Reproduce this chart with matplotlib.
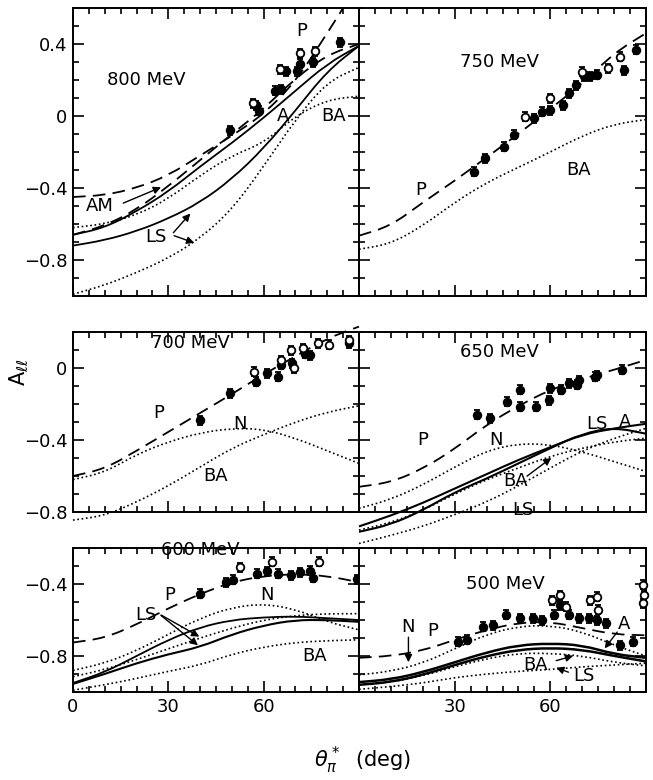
import matplotlib.pyplot as plt
from matplotlib.path import Path
from matplotlib.patches import PathPatch
from matplotlib.ticker import FixedLocator, MultipleLocator

plt.rcParams['font.family'] = ['DejaVu Sans']

ang = [0, 10, 20, 30, 40, 50, 60, 70, 80, 90]

# ---- 800 MeV
p800_x = [0, 10, 20, 30, 40, 50, 60, 70, 80, 85]
p800 = [-0.45, -0.44, -0.40, -0.33, -0.22, -0.11, 0.01, 0.19, 0.46, 0.60]
am800 = [-0.66, -0.61, -0.52, -0.39, -0.245, -0.10, 0.04, 0.21, 0.34, 0.40]
a800 = [-0.66, -0.62, -0.53, -0.42, -0.28, -0.15, -0.01, 0.14, 0.29, 0.39]
ls800 = [-0.72, -0.69, -0.64, -0.57, -0.48, -0.35, -0.18, 0.03, 0.25, 0.39]
ba800 = [-0.62, -0.60, -0.55, -0.46, -0.33, -0.22, -0.15, 0.0, 0.09, 0.11]
lsd800 = [-0.99, -0.94, -0.87, -0.79, -0.68, -0.52, -0.28, -0.02, 0.19, 0.27]
f800_x = [49.5, 57.5, 58.5, 63.5, 65.5, 67, 70.5, 71.5, 75.5, 84]
f800_y = [-0.08, 0.06, 0.03, 0.14, 0.15, 0.25, 0.25, 0.29, 0.30, 0.41]
o800_x = [56.5, 65, 71.5, 76]
o800_y = [0.07, 0.26, 0.35, 0.36]

# ---- 750 MeV
p750 = [-0.665, -0.61, -0.48, -0.36, -0.23, -0.10, 0.04, 0.18, 0.35, 0.46]
ba750 = [-0.74, -0.71, -0.61, -0.48, -0.37, -0.285, -0.20, -0.11, -0.045, -0.02]
f750_x = [36, 39.5, 45.5, 48.5, 55, 57.5, 60, 64, 66, 68, 70.5, 72.5, 74.5, 83, 87]
f750_y = [-0.31, -0.235, -0.17, -0.105, -0.013, 0.024, 0.033, 0.061, 0.126, 0.172,
          0.22, 0.22, 0.23, 0.255, 0.367]
o750_x = [52, 60, 70, 78, 82]
o750_y = [-0.004, 0.098, 0.246, 0.265, 0.33]

# ---- 700 MeV
p700 = [-0.60, -0.56, -0.46, -0.355, -0.25, -0.145, -0.035, 0.065, 0.165, 0.23]
n700 = [-0.62, -0.58, -0.48, -0.41, -0.36, -0.335, -0.34, -0.39, -0.46, -0.53]
ba700 = [-0.845, -0.82, -0.745, -0.655, -0.55, -0.445, -0.37, -0.30, -0.245, -0.21]
f700_x = [40, 49.5, 57.5, 61, 64.5, 65.5, 69, 73, 74.5, 87]
f700_y = [-0.29, -0.14, -0.076, -0.03, -0.048, 0.017, 0.026, 0.08, 0.07, 0.137]
o700_x = [57, 65.5, 68.5, 69.5, 72.5, 77, 80.5, 87]
o700_y = [-0.02, 0.044, 0.10, 0.0, 0.11, 0.137, 0.128, 0.155]

# ---- 650 MeV
p650 = [-0.66, -0.635, -0.56, -0.45, -0.315, -0.21, -0.12, -0.06, -0.01, 0.045]
n650 = [-0.78, -0.73, -0.65, -0.55, -0.46, -0.42, -0.425, -0.465, -0.52, -0.575]
a650 = [-0.88, -0.82, -0.75, -0.67, -0.59, -0.51, -0.44, -0.37, -0.335, -0.31]
ls650 = [-0.91, -0.87, -0.79, -0.69, -0.615, -0.53, -0.445, -0.365, -0.33, -0.365]
ba650 = [-0.90, -0.86, -0.79, -0.70, -0.62, -0.555, -0.49, -0.445, -0.41, -0.39]
lsd650 = [-0.975, -0.93, -0.88, -0.815, -0.745, -0.655, -0.555, -0.46, -0.39, -0.335]
f650_x = [37, 41, 46.5, 50.5, 50.5, 55.5, 59.5, 60, 63.5, 66, 68.5, 69, 74, 74.5, 82.5]
f650_y = [-0.26, -0.28, -0.187, -0.122, -0.215, -0.215, -0.178, -0.113, -0.122, -0.085,
          -0.094, -0.067, -0.048, -0.039, -0.011]

# ---- 600 MeV
p600 = [-0.725, -0.70, -0.625, -0.535, -0.455, -0.39, -0.355, -0.345, -0.355, -0.39]
n600 = [-0.88, -0.84, -0.77, -0.68, -0.59, -0.53, -0.51, -0.54, -0.61, -0.655]
mid600 = [-0.915, -0.875, -0.82, -0.76, -0.70, -0.645, -0.60, -0.575, -0.565, -0.565]
a600 = [-0.95, -0.89, -0.80, -0.71, -0.64, -0.60, -0.585, -0.58, -0.59, -0.60]
ls600 = [-0.955, -0.90, -0.84, -0.79, -0.75, -0.68, -0.63, -0.60, -0.60, -0.61]
ba600 = [-0.99, -0.96, -0.925, -0.885, -0.85, -0.79, -0.75, -0.725, -0.715, -0.71]
f600_x = [40, 48, 50.5, 58, 61, 64.5, 68.5, 71.5, 74.5, 75.5, 89.5]
f600_y = [-0.455, -0.39, -0.375, -0.344, -0.33, -0.344, -0.35, -0.336, -0.327, -0.364, -0.373]
o600_x = [52.5, 62.5, 77.5]
o600_y = [-0.308, -0.275, -0.275]

# ---- 500 MeV
p500 = [-0.81, -0.80, -0.77, -0.71, -0.655, -0.615, -0.61, -0.645, -0.68, -0.685]
n500 = [-0.905, -0.885, -0.84, -0.76, -0.68, -0.635, -0.63, -0.665, -0.74, -0.80]
a500 = [-0.945, -0.93, -0.89, -0.835, -0.78, -0.74, -0.73, -0.74, -0.79, -0.81]
ls500 = [-0.96, -0.945, -0.905, -0.85, -0.80, -0.765, -0.755, -0.765, -0.80, -0.83]
ba500 = [-0.96, -0.945, -0.91, -0.86, -0.815, -0.785, -0.785, -0.80, -0.835, -0.855]
low500 = [-0.985, -0.97, -0.95, -0.92, -0.90, -0.885, -0.875, -0.86, -0.85, -0.84]
f500_x = [31, 34, 39, 42, 46, 50.5, 54.5, 57.5, 61, 63, 66, 69, 72, 74.5, 77.5, 82, 86]
f500_y = [-0.72, -0.711, -0.637, -0.628, -0.572, -0.59, -0.59, -0.60, -0.572, -0.517,
          -0.572, -0.59, -0.59, -0.60, -0.618, -0.739, -0.72]
o500_x = [60.5, 63, 65, 72.5, 74.5, 75, 89, 89.5, 89]
o500_y = [-0.49, -0.462, -0.527, -0.49, -0.47, -0.544, -0.405, -0.462, -0.508]

W, H = 653, 780
fig = plt.figure(figsize=(W / 100, H / 100), dpi=100)


def make_ax(x0, x1, y0, y1, ylim, ylab, xlab):
    ax = fig.add_axes([x0 / W, 1 - y1 / H, (x1 - x0) / W, (y1 - y0) / H])
    ax.set_xlim(0, 90)
    ax.set_ylim(*ylim)
    ax.xaxis.set_major_locator(FixedLocator([0, 30, 60, 90]))
    ax.xaxis.set_minor_locator(MultipleLocator(5))
    yt = [v for v in [0.4, 0.0, -0.4, -0.8] if ylim[0] - 1e-6 <= v <= ylim[1] + 1e-6]
    ax.yaxis.set_major_locator(FixedLocator(yt))
    ax.yaxis.set_minor_locator(MultipleLocator(0.1))
    if ylab:
        ax.set_yticklabels(['0' if v == 0 else f'{v:.1f}'.replace('-', '\u2212') for v in yt])
    else:
        ax.set_yticklabels([])
    if xlab is None:
        ax.set_xticklabels([])
    else:
        ax.set_xticklabels(xlab)
    ax.tick_params(which='both', direction='in', top=True, right=True,
                   labelsize=13, width=1.2, pad=4)
    ax.tick_params(which='major', length=8)
    ax.tick_params(which='minor', length=4)
    for s in ax.spines.values():
        s.set_linewidth(1.4)
    return ax


def curve(ax, x, y, lw, ls):
    # smooth quadratic path through the read points (control at each point)
    pts = list(zip(x, y))
    verts = [pts[0], ((pts[0][0] + pts[1][0]) / 2, (pts[0][1] + pts[1][1]) / 2)]
    codes = [Path.MOVETO, Path.LINETO]
    for i in range(1, len(pts) - 1):
        nxt = ((pts[i][0] + pts[i + 1][0]) / 2, (pts[i][1] + pts[i + 1][1]) / 2)
        verts += [pts[i], nxt]
        codes += [Path.CURVE3, Path.CURVE3]
    verts.append(pts[-1])
    codes.append(Path.LINETO)
    ax.add_patch(PathPatch(Path(verts, codes), fill=False, ec='k', lw=lw, ls=ls,
                           clip_on=False, capstyle='butt'))


def solid(ax, y, x=ang, lw=1.3):
    curve(ax, x, y, lw, '-')


def dash(ax, y, x=ang):
    curve(ax, x, y, 1.3, (0, (7, 4)))


def dot(ax, y, x=ang):
    curve(ax, x, y, 1.2, (0, (1, 1.6)))


def data(ax, x, y, filled=True, err=0.025):
    ax.errorbar(x, y, yerr=err, fmt='o', ms=5.5, color='k',
                mfc='k' if filled else 'white', mew=1.3, elinewidth=1.1,
                capsize=2.5, clip_on=False, zorder=5)


def label(ax, x, y, s):
    ax.text(x, y, s, fontsize=13, ha='center', va='center')


def arrow(ax, tip, start):
    ax.annotate('', xy=tip, xytext=start,
                arrowprops=dict(arrowstyle='-|>', color='k', lw=1.0, mutation_scale=11))


LX0, MX, RX1 = 73, 359, 646
ax1 = make_ax(LX0, MX, 8, 296, (-1.0, 0.6), True, None)
ax2 = make_ax(MX, RX1, 8, 296, (-1.0, 0.6), False, None)
ax3 = make_ax(LX0, MX, 332, 512, (-0.8, 0.2), True, None)
ax4 = make_ax(MX, RX1, 332, 512, (-0.8, 0.2), False, None)
ax5 = make_ax(LX0, MX, 548, 692, (-1.0, -0.2), True, ['0', '30', '60', ''])
ax6 = make_ax(MX, RX1, 548, 692, (-1.0, -0.2), False, ['', '30', '60', ''])

# 800 MeV
dash(ax1, p800, p800_x)
dash(ax1, am800)
solid(ax1, a800)
solid(ax1, ls800)
dot(ax1, ba800)
dot(ax1, lsd800)
data(ax1, f800_x, f800_y)
data(ax1, o800_x, o800_y, filled=False)
label(ax1, 23, 0.2, '800 MeV')
label(ax1, 72, 0.47, 'P')
label(ax1, 66, 0.0, 'A')
label(ax1, 82, 0.0, 'BA')
label(ax1, 8.5, -0.5, 'AM')
arrow(ax1, (28.5, -0.39), (15, -0.49))
label(ax1, 26, -0.67, 'LS')
arrow(ax1, (37.5, -0.53), (31, -0.66))
arrow(ax1, (39, -0.71), (31, -0.66))

# 750 MeV
dash(ax2, p750)
dot(ax2, ba750)
data(ax2, f750_x, f750_y)
data(ax2, o750_x, o750_y, filled=False)
label(ax2, 44, 0.30, '750 MeV')
label(ax2, 19.5, -0.41, 'P')
label(ax2, 69, -0.30, 'BA')

# 700 MeV
dash(ax3, p700)
dot(ax3, n700)
dot(ax3, ba700)
data(ax3, f700_x, f700_y)
data(ax3, o700_x, o700_y, filled=False)
label(ax3, 37, 0.14, '700 MeV')
label(ax3, 27, -0.25, 'P')
label(ax3, 52.5, -0.31, 'N')
label(ax3, 45, -0.60, 'BA')

# 650 MeV
dash(ax4, p650)
dot(ax4, n650)
solid(ax4, a650, lw=1.5)
solid(ax4, ls650, lw=1.5)
dot(ax4, ba650)
dot(ax4, lsd650)
data(ax4, f650_x, f650_y)
label(ax4, 44, 0.09, '650 MeV')
label(ax4, 20, -0.40, 'P')
label(ax4, 43, -0.40, 'N')
label(ax4, 74.5, -0.31, 'LS')
label(ax4, 83.5, -0.30, 'A')
label(ax4, 49, -0.63, 'BA')
arrow(ax4, (61, -0.49), (52, -0.61))
label(ax4, 51.5, -0.79, 'LS')

# 600 MeV
dash(ax5, p600)
dot(ax5, n600)
dot(ax5, mid600)
solid(ax5, a600)
solid(ax5, ls600, lw=1.5)
dot(ax5, ba600)
data(ax5, f600_x, f600_y)
data(ax5, o600_x, o600_y, filled=False)
label(ax5, 40, -0.21, '600 MeV')
label(ax5, 30.5, -0.46, 'P')
label(ax5, 61, -0.46, 'N')
label(ax5, 23, -0.57, 'LS')
label(ax5, 76, -0.80, 'BA')
arrow(ax5, (40.5, -0.70), (27, -0.565))
arrow(ax5, (40, -0.75), (27, -0.565))

# 500 MeV
dash(ax6, p500)
dot(ax6, n500)
solid(ax6, a500, lw=1.8)
solid(ax6, ls500, lw=1.8)
dot(ax6, ba500)
dot(ax6, low500)
data(ax6, f500_x, f500_y)
data(ax6, o500_x, o500_y, filled=False)
label(ax6, 46, -0.40, '500 MeV')
label(ax6, 15.5, -0.64, 'N')
arrow(ax6, (15.5, -0.85), (15.5, -0.68))
label(ax6, 23, -0.66, 'P')
label(ax6, 83, -0.62, 'A')
arrow(ax6, (76.5, -0.77), (81.5, -0.655))
label(ax6, 55.5, -0.85, 'BA')
arrow(ax6, (68, -0.795), (61, -0.83))
label(ax6, 70.5, -0.91, 'LS')
arrow(ax6, (61, -0.86), (66.5, -0.895))

fig.text(19 / W, 1 - 372 / H, r'A$_{\ell\ell}$', rotation=90, fontsize=15,
         ha='center', va='center')
fig.text(363 / W, 1 - 760 / H, r'$\theta^*_\pi$  (deg)', fontsize=15,
         ha='center', va='center')

fig.savefig('out.png', dpi=100)
